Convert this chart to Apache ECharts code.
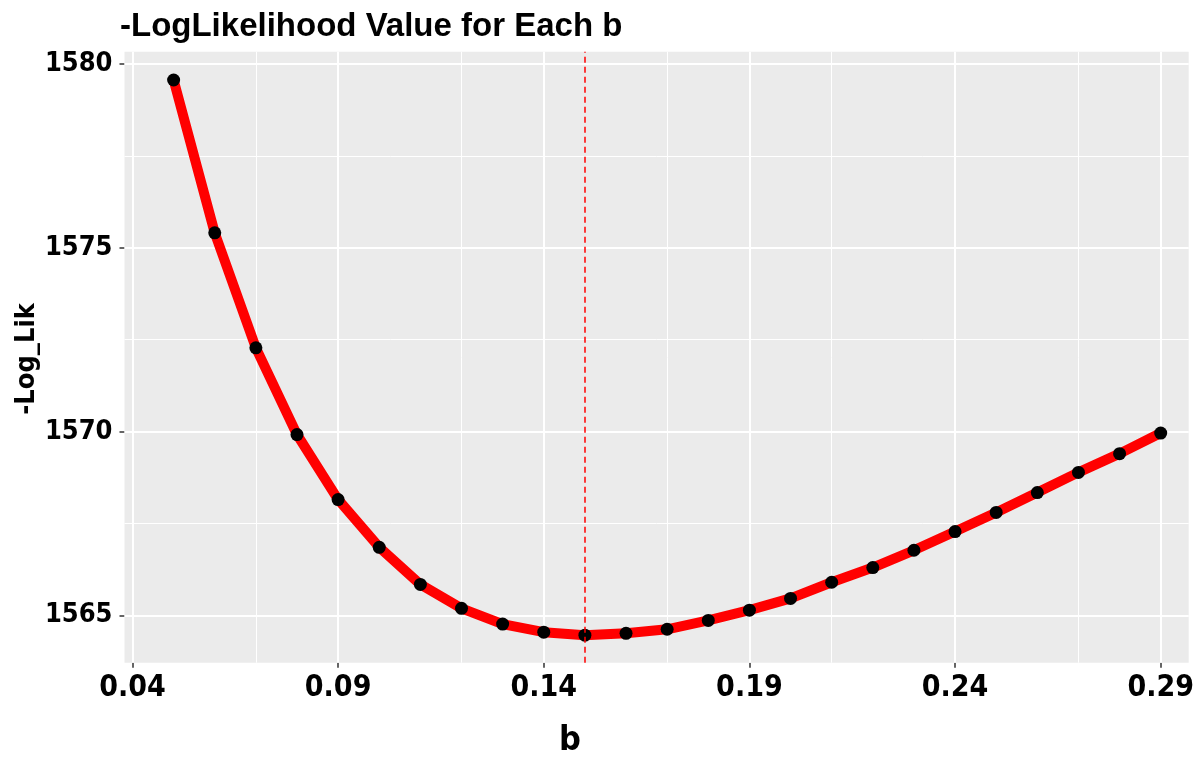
<!DOCTYPE html>
<html>
<head>
<meta charset="utf-8">
<script src="https://cdn.jsdelivr.net/npm/echarts@6/dist/echarts.min.js"></script>
<style>
html,body{margin:0;padding:0;background:#fff;}
#chart{width:1197px;height:760px;}
</style>
</head>
<body>
<div id="chart"></div>
<script>
const bValues = [0.05,0.06,0.07,0.08,0.09,0.10,0.11,0.12,0.13,0.14,0.15,0.16,0.17,0.18,0.19,0.20,0.21,0.22,0.23,0.24,0.25,0.26,0.27,0.28,0.29];
const negLogLik = [1579.57,1575.41,1572.28,1569.92,1568.15,1566.85,1565.84,1565.19,1564.76,1564.54,1564.46,1564.51,1564.62,1564.86,1565.14,1565.46,1565.90,1566.30,1566.77,1567.28,1567.80,1568.34,1568.89,1569.40,1569.96];
const xTicks = [0.04,0.09,0.14,0.19,0.24,0.29];
const xMinor = [0.065,0.115,0.165,0.215,0.265];
const yTicks = [1565,1570,1575,1580];
const yMinor = [1567.5,1572.5,1577.5];
const bestB = 0.15;

const chart = echarts.init(document.getElementById('chart'));
const condFont = "'DejaVu Sans Condensed', 'Liberation Sans Narrow', sans-serif";

const gridLines = [];
xTicks.forEach(v => gridLines.push({xAxis:v, lineStyle:{color:'#fff', width:2, type:'solid'}}));
xMinor.forEach(v => gridLines.push({xAxis:v, lineStyle:{color:'#fff', width:1, type:'solid'}}));
yTicks.forEach(v => gridLines.push({yAxis:v, lineStyle:{color:'#fff', width:2, type:'solid'}}));
yMinor.forEach(v => gridLines.push({yAxis:v, lineStyle:{color:'#fff', width:1, type:'solid'}}));

chart.setOption({
  animation:false,
  title:{
    text:'-LogLikelihood Value for Each b',
    left:115, top:5,
    textStyle:{fontFamily:'Liberation Sans', fontWeight:'bold', fontSize:33, color:'#000'}
  },
  grid:{left:124.5, right:6, top:51.7, bottom:97.3, show:true, backgroundColor:'#EBEBEB', borderWidth:0},
  xAxis:{
    type:'value', min:0.03806, max:0.2968,
    axisLine:{show:false},
    axisTick:{show:true, customValues:xTicks, length:5, lineStyle:{color:'#333', width:1.5}},
    axisLabel:{customValues:xTicks, margin:11, formatter:v=>v.toFixed(2),
      fontFamily:condFont, fontWeight:'bold', fontSize:30, color:'#000'},
    splitLine:{show:false}
  },
  yAxis:{
    type:'value', min:1563.71, max:1580.34,
    axisLine:{show:false},
    axisTick:{show:true, customValues:yTicks, length:5, lineStyle:{color:'#333', width:1.5}},
    axisLabel:{customValues:yTicks, margin:12, formatter:v=>String(v),
      fontFamily:condFont, fontWeight:'bold', fontSize:27, color:'#000'},
    splitLine:{show:false}
  },
  graphic:[
    {type:'text', rotation:Math.PI/2, x:27, y:359,
     style:{text:'-Log_Lik', fontFamily:condFont, fontWeight:'bold', fontSize:27, fill:'#000', align:'center', verticalAlign:'middle'}},
    {type:'text', x:570, y:741,
     style:{text:'b', fontFamily:condFont, fontWeight:'bold', fontSize:34, fill:'#000', align:'center', verticalAlign:'middle'}}
  ],
  series:[
    {type:'line', data:[], z:1, silent:true,
     markLine:{silent:true, z:1, symbol:'none', label:{show:false}, animation:false, data:gridLines}},
    {type:'line', z:3, data:bValues.map((b,i)=>[b, negLogLik[i]]),
     lineStyle:{color:'#FF0000', width:10},
     symbol:'circle', symbolSize:13, itemStyle:{color:'#000'},
     markLine:{silent:true, z:4, symbol:'none', label:{show:false}, animation:false,
       data:[{xAxis:bestB, lineStyle:{color:'#FF0000', width:1.5, type:[6,4]}}]}}
  ]
});
</script>
</body>
</html>
